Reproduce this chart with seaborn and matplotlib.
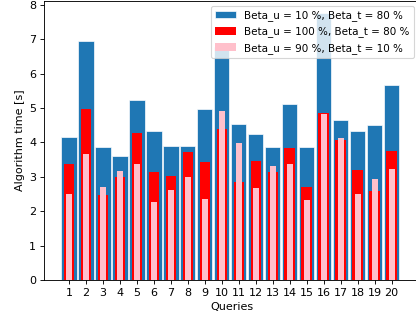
import matplotlib
matplotlib.use("Agg")
import matplotlib.pyplot as plt
import seaborn as sns
import pandas as pd

queries = list(range(1, 21))

# Algorithm time [s] per query for each parameter setting
time_u10_t80 = [4.16, 6.95, 3.86, 3.61, 5.24, 4.33, 3.90, 3.90, 4.97, 6.76,
                4.54, 4.25, 3.88, 5.11, 3.88, 7.76, 4.65, 4.33, 4.51, 5.67]
time_u100_t80 = [3.38, 4.97, 2.46, 2.98, 4.27, 3.14, 3.03, 3.72, 3.43, 4.39,
                 2.86, 3.45, 3.13, 3.84, 2.69, 4.85, 4.08, 3.20, 2.58, 3.76]
time_u90_t10 = [2.49, 3.66, 2.69, 3.17, 3.38, 2.27, 2.62, 3.00, 2.34, 4.91,
                3.98, 2.67, 3.30, 3.36, 2.32, 4.82, 4.12, 2.49, 2.93, 3.22]

labels = ["Beta_u = 10 %, Beta_t = 80 %",
          "Beta_u = 100 %, Beta_t = 80 %",
          "Beta_u = 90 %, Beta_t = 10 %"]

df = pd.DataFrame({
    "query": [str(q) for q in queries],
    "u10_t80": time_u10_t80,
    "u100_t80": time_u100_t80,
    "u90_t10": time_u90_t10,
})

fig = plt.figure(figsize=(5.2, 4.0), dpi=80)
ax = fig.add_axes([44 / 416, 40 / 320, 375 / 416, 279 / 320])

sns.barplot(data=df, x="query", y="u10_t80", color="#1f77b4", saturation=1,
            width=0.9, errorbar=None, label=labels[0], ax=ax,
            edgecolor="white", linewidth=0.6)
sns.barplot(data=df, x="query", y="u100_t80", color="red", saturation=1,
            width=0.62, errorbar=None, label=labels[1], ax=ax, linewidth=0)
sns.barplot(data=df, x="query", y="u90_t10", color="pink", saturation=1,
            width=0.36, errorbar=None, label=labels[2], ax=ax, linewidth=0)

ax.set_xlim(-1.47, 20.61)
ax.set_ylim(0, 8.11)
ax.set_xlabel("Queries")
ax.set_ylabel("Algorithm time [s]")
ax.legend(loc="upper right", fontsize=9.4)

fig.savefig("out.png", dpi=80)
